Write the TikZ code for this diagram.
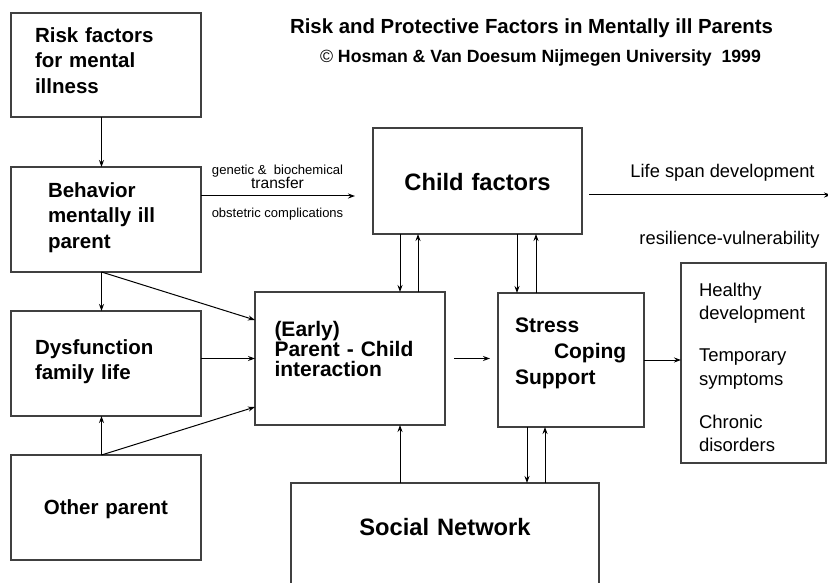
\documentclass[tikz,border=0pt]{standalone}
\usepackage{fontspec}
\setmainfont{Liberation Sans}
\usepackage{tikz}
\usetikzlibrary{positioning,arrows.meta}
\newcommand{\boxfont}{\fontsize{20.5}{25.5}\selectfont\bfseries}
\newcommand{\bigfont}{\fontsize{23.7}{28}\selectfont\bfseries}

\begin{document}
\begin{tikzpicture}[x=1pt, y=-1pt, >={Stealth[length=7pt,width=5pt]}]

\tikzstyle{box}=[draw=black!75, line width=1.1pt, outer sep=0pt, inner ysep=0pt, align=left, font=\boxfont]
\tikzstyle{link}=[->, line width=1pt]
\tikzstyle{annot}=[anchor=base, inner sep=0pt]

\useasboundingbox (0,0) rectangle (828,583);

\node[annot, font=\fontsize{20.4}{24}\selectfont\bfseries] (title) at (531.5,33.5) {Risk and Protective Factors in Mentally ill Parents};
\node[annot, font=\fontsize{17.7}{21}\selectfont\bfseries] (copy) at (540.5,62.3) {{\mdseries ©} Hosman \& Van Doesum Nijmegen University\ \ 1999};

\node[box, anchor=north, text width=142pt, inner xsep=24pt, text height=29.5pt, text depth=74.5pt] (risk) at (106,13) {Risk factors\\for mental\\illness};
\node[box, below=50pt of risk, text width=116pt, inner xsep=37pt, text height=30.3pt, text depth=74.7pt] (behav) {Behavior\\mentally ill\\parent};
\node[box, below=39pt of behav, text width=142pt, inner xsep=24pt, text height=43pt, text depth=62pt] (dys) {Dysfunction\\family life};
\node[box, below=39pt of dys, text width=142pt, inner xsep=24pt, align=center, text height=59pt, text depth=46pt] (other) {Other parent};

\node[box, anchor=north, font=\bigfont, text width=161pt, inner xsep=24pt, align=center, text height=62pt, text depth=44pt] (child) at (477.5,128) {Child factors};
\node[box, anchor=north, font=\fontsize{21}{20}\selectfont\bfseries, text width=151pt, inner xsep=19.5pt, text height=44.7pt, text depth=88.3pt] (pc) at (350,292) {(Early)\\Parent - Child\\interaction};
\node[box, anchor=north, font=\fontsize{21}{25.8}\selectfont\bfseries, text width=112pt, inner xsep=17pt, text height=39.7pt, text depth=94.3pt] (stress) at (571,293) {Stress\\\hspace*{39pt}Coping\\Support};
\node[box, anchor=north, font=\fontsize{18.5}{23.5}\selectfont, text width=109pt, inner xsep=18pt, text height=33pt, text depth=167pt] (outcome) at (753.5,263) {Healthy\\development\\[19pt]Temporary\\symptoms\\[19pt]Chronic\\disorders};
\node[box, anchor=north, font=\bigfont, text width=260pt, inner xsep=24pt, align=center, text height=52pt, text depth=80pt] (social) at (445,483) {Social Network};

\draw[link] ([xshift=-4.5pt]risk.south) -- ([xshift=-4.5pt]behav.north);
\draw[link] ([xshift=-4.5pt]behav.south) -- ([xshift=-4.5pt]dys.north);
\draw[link] ([xshift=-4.5pt]other.north) -- ([xshift=-4.5pt]dys.south);
\draw[link] ([xshift=-4.5pt]behav.south) -- ([yshift=38.5pt]pc.west);
\draw[link] (dys.east |- pc.west) -- (pc.west);
\draw[link] ([xshift=-4.5pt]other.north) -- ([yshift=-48.5pt]pc.west);

\coordinate (gen) at ([yshift=23.5pt]behav.east);
\draw[link, shorten >=18pt] (gen) -- (gen -| child.west);
\node[annot, font=\fontsize{13.1}{15}\selectfont] (genlbl) at (277.5,175) {genetic \&\ \ biochemical};
\node[annot, font=\fontsize{15.6}{18}\selectfont] (translbl) at (277.5,189) {transfer};
\node[annot, font=\fontsize{13}{15}\selectfont] (obstlbl) at (277.5,217.3) {obstetric complications};

\coordinate (cd) at ([xshift=50pt]pc.north);
\coordinate (cu) at ([xshift=68pt]pc.north);
\draw[link] (cd |- child.south) -- (cd);
\draw[link] (cu) -- (cu |- child.south);

\coordinate (sd) at ([xshift=-54pt]stress.north);
\coordinate (su) at ([xshift=-35pt]stress.north);
\draw[link] (sd |- child.south) -- (sd);
\draw[link] (su) -- (su |- child.south);

\draw[link, shorten <=9pt, shorten >=8pt] (pc.east) -- (pc.east -| stress.west);
\draw[link] (stress.east) -- (stress.east -| outcome.west);

\coordinate (nu) at ([xshift=50pt]pc.south);
\draw[link] (nu |- social.north) -- (nu);
\coordinate (nd) at ([xshift=-44pt]stress.south);
\coordinate (nv) at ([xshift=-26pt]stress.south);
\draw[link] (nd) -- (nd |- social.north);
\draw[link] (nv |- social.north) -- (nv);

\coordinate (life) at ([shift={(7pt,-14pt)}]child.east);
\coordinate (lifeend) at (831,195);
\draw[link] (life) -- (lifeend);
\node[annot, font=\fontsize{18.3}{22}\selectfont] (spanlbl) at (722.5,177.7) {Life span development};
\node[annot, font=\fontsize{18.3}{22}\selectfont] (resillbl) at (729.5,244) {resilience-vulnerability};

\end{tikzpicture}
\end{document}
